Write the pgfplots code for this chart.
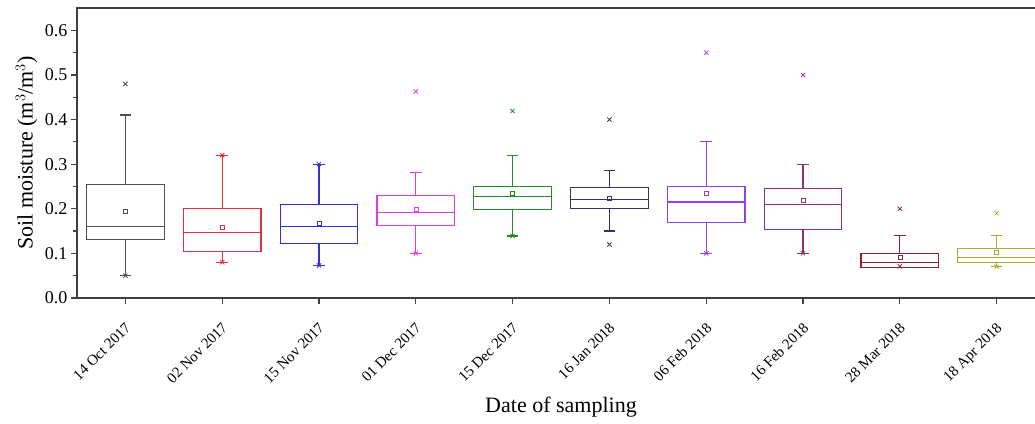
\documentclass[border=0pt]{standalone}
\usepackage{pgfplots}
\pgfplotsset{compat=1.18}
\usepgfplotslibrary{statistics}
\usepackage{fontspec}
\setmainfont{Liberation Serif}
\definecolor{c1}{RGB}{80,80,80}
\definecolor{c2}{RGB}{225,50,65}
\definecolor{c3}{RGB}{50,50,220}
\definecolor{c4}{RGB}{225,60,225}
\definecolor{c5}{RGB}{40,135,40}
\definecolor{c6}{RGB}{50,50,110}
\definecolor{c7}{RGB}{145,65,225}
\definecolor{c8}{RGB}{140,50,125}
\definecolor{c9}{RGB}{140,35,50}
\definecolor{c10}{RGB}{170,170,50}
\begin{document}
\begin{tikzpicture}
\begin{axis}[
  scale only axis, width=968pt, height=290pt,
  xmin=-0.5, xmax=9.5, ymin=0, ymax=0.65,
  xtick={0,1,2,3,4,5,6,7,8,9},
  xticklabels={14 Oct 2017,02 Nov 2017,15 Nov 2017,01 Dec 2017,15 Dec 2017,16 Jan 2018,06 Feb 2018,16 Feb 2018,28 Mar 2018,18 Apr 2018},
  ytick={0,0.1,0.2,0.3,0.4,0.5,0.6},
  minor y tick num=1,
  tick align=outside, xtick pos=bottom, ytick pos=left,
  major tick length=6pt, minor tick length=4pt,
  axis line style={line width=1.4pt, black!75},
  every tick/.style={line width=1.2pt, black!75},
  yticklabel style={font=\fontsize{18}{20}\selectfont},
  xticklabel style={font=\fontsize{15}{17}\selectfont, yshift=-16pt, xshift=-1pt, rotate=45, anchor=north east, inner sep=1pt},
  /pgf/number format/assume math mode=true,
  y tick label style={/pgf/number format/.cd, fixed, fixed zerofill, precision=1},
  xlabel={Date of sampling},
  ylabel={Soil moisture (m$^3$/m$^3$)},
  every axis x label/.style={at={(axis description cs:0.5,-0.376)}, anchor=center, font=\fontsize{22}{26}\selectfont},
  every axis y label/.style={at={(axis description cs:-0.052,0.5)}, rotate=90, anchor=center, font=\fontsize{22}{26}\selectfont},
  boxplot/draw direction=y,
  boxplot/box extend=0.8,
  boxplot/whisker extend=0.12,
  boxplot/every box/.style={line width=1.2pt},
  boxplot/every whisker/.style={line width=1.2pt},
  boxplot/every median/.style={line width=1.2pt},
  boxplot/every average/.style={/tikz/mark=square, /tikz/mark size=2pt, /tikz/line width=0.5pt},
  clip=false,
]
\addplot[c1, mark=x, mark size=3pt, mark options={line width=0.8pt}, boxplot prepared={draw position=0, lower whisker=0.05, lower quartile=0.131, median=0.16, upper quartile=0.255, upper whisker=0.41, average=0.195}] table[row sep=\\, y index=0]{y\\0.48\\0.05\\};
\addplot[c2, mark=x, mark size=3pt, mark options={line width=0.8pt}, boxplot prepared={draw position=1, lower whisker=0.08, lower quartile=0.104, median=0.146, upper quartile=0.2, upper whisker=0.32, average=0.158}] table[row sep=\\, y index=0]{y\\0.32\\0.08\\};
\addplot[c3, mark=x, mark size=3pt, mark options={line width=0.8pt}, boxplot prepared={draw position=2, lower whisker=0.073, lower quartile=0.123, median=0.16, upper quartile=0.21, upper whisker=0.30, average=0.168}] table[row sep=\\, y index=0]{y\\0.30\\0.073\\};
\addplot[c4, mark=x, mark size=3pt, mark options={line width=0.8pt}, boxplot prepared={draw position=3, lower whisker=0.10, lower quartile=0.163, median=0.191, upper quartile=0.23, upper whisker=0.282, average=0.20}] table[row sep=\\, y index=0]{y\\0.463\\0.10\\};
\addplot[c5, mark=x, mark size=3pt, mark options={line width=0.8pt}, boxplot prepared={draw position=4, lower whisker=0.139, lower quartile=0.198, median=0.228, upper quartile=0.25, upper whisker=0.32, average=0.236}] table[row sep=\\, y index=0]{y\\0.419\\0.139\\};
\addplot[c6, mark=x, mark size=3pt, mark options={line width=0.8pt}, boxplot prepared={draw position=5, lower whisker=0.15, lower quartile=0.20, median=0.22, upper quartile=0.248, upper whisker=0.286, average=0.224}] table[row sep=\\, y index=0]{y\\0.40\\0.12\\};
\addplot[c7, mark=x, mark size=3pt, mark options={line width=0.8pt}, boxplot prepared={draw position=6, lower whisker=0.10, lower quartile=0.17, median=0.215, upper quartile=0.25, upper whisker=0.35, average=0.236}] table[row sep=\\, y index=0]{y\\0.55\\0.10\\};
\addplot[c8, mark=x, mark size=3pt, mark options={line width=0.8pt}, boxplot prepared={draw position=7, lower whisker=0.10, lower quartile=0.154, median=0.21, upper quartile=0.245, upper whisker=0.30, average=0.219}] table[row sep=\\, y index=0]{y\\0.50\\0.10\\};
\addplot[c9, mark=x, mark size=3pt, mark options={line width=0.8pt}, boxplot prepared={draw position=8, lower whisker=0.069, lower quartile=0.069, median=0.08, upper quartile=0.10, upper whisker=0.14, average=0.091}] table[row sep=\\, y index=0]{y\\0.20\\0.071\\};
\addplot[c10, mark=x, mark size=3pt, mark options={line width=0.8pt}, boxplot prepared={draw position=9, lower whisker=0.07, lower quartile=0.08, median=0.09, upper quartile=0.111, upper whisker=0.14, average=0.102}] table[row sep=\\, y index=0]{y\\0.19\\0.07\\};
\end{axis}
\pgfresetboundingbox
\useasboundingbox ([shift={(-77pt,-125pt)}]current axis.south west) rectangle ([shift={(958pt,8pt)}]current axis.north west);
\end{tikzpicture}
\end{document}
